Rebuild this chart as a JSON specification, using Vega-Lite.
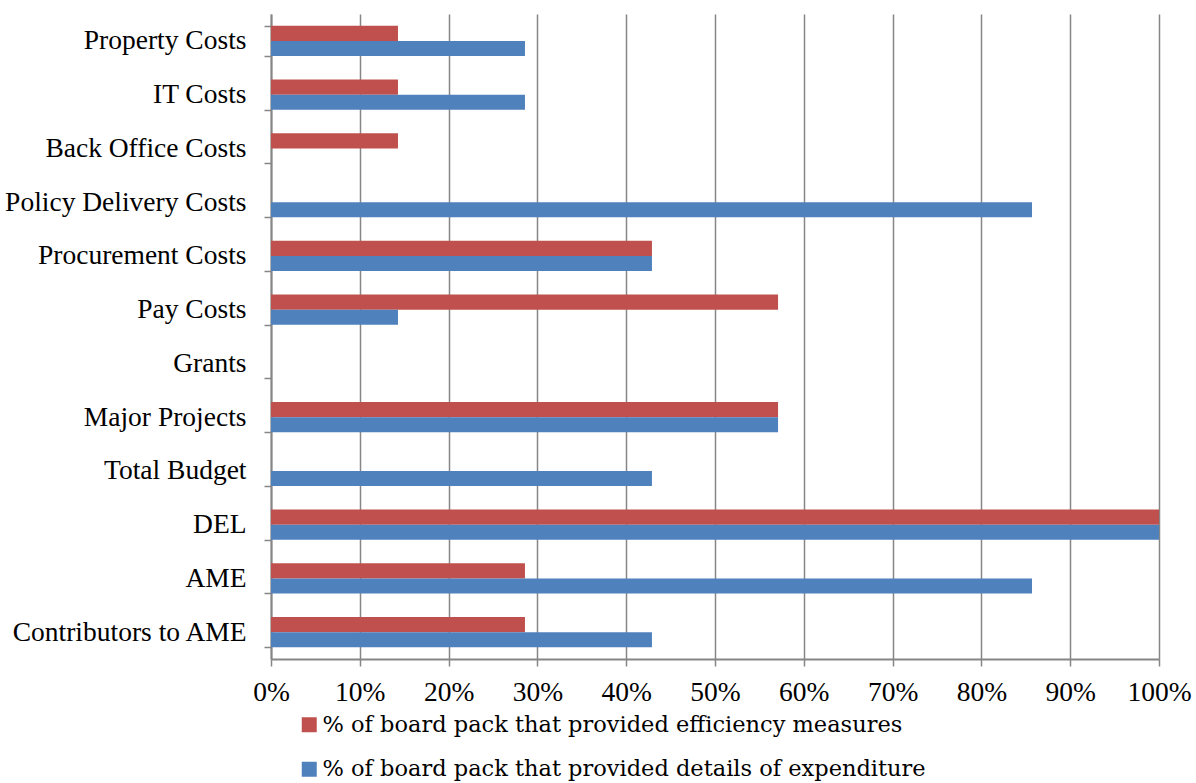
{
  "$schema": "https://vega.github.io/schema/vega-lite/v6.json",
  "autosize": "none",
  "width": 888,
  "height": 645,
  "padding": {"left": 271, "top": 14, "right": 37, "bottom": 124},
  "background": "white",
  "config": {
    "font": "Liberation Serif",
    "view": {"stroke": null},
    "style": {"guide-label": {"font": "Liberation Serif"}},
    "legend": {"labelFont": "DejaVu Serif"}
  },
  "data": {
    "values": [
      {"category": "Property Costs", "series": "% of board pack that provided efficiency measures", "pct": 14.3},
      {"category": "Property Costs", "series": "% of board pack that provided details of expenditure", "pct": 28.6},
      {"category": "IT Costs", "series": "% of board pack that provided efficiency measures", "pct": 14.3},
      {"category": "IT Costs", "series": "% of board pack that provided details of expenditure", "pct": 28.6},
      {"category": "Back Office Costs", "series": "% of board pack that provided efficiency measures", "pct": 14.3},
      {"category": "Back Office Costs", "series": "% of board pack that provided details of expenditure", "pct": 0},
      {"category": "Policy Delivery Costs", "series": "% of board pack that provided efficiency measures", "pct": 0},
      {"category": "Policy Delivery Costs", "series": "% of board pack that provided details of expenditure", "pct": 85.7},
      {"category": "Procurement Costs", "series": "% of board pack that provided efficiency measures", "pct": 42.9},
      {"category": "Procurement Costs", "series": "% of board pack that provided details of expenditure", "pct": 42.9},
      {"category": "Pay Costs", "series": "% of board pack that provided efficiency measures", "pct": 57.1},
      {"category": "Pay Costs", "series": "% of board pack that provided details of expenditure", "pct": 14.3},
      {"category": "Grants", "series": "% of board pack that provided efficiency measures", "pct": 0},
      {"category": "Grants", "series": "% of board pack that provided details of expenditure", "pct": 0},
      {"category": "Major Projects", "series": "% of board pack that provided efficiency measures", "pct": 57.1},
      {"category": "Major Projects", "series": "% of board pack that provided details of expenditure", "pct": 57.1},
      {"category": "Total Budget", "series": "% of board pack that provided efficiency measures", "pct": 0},
      {"category": "Total Budget", "series": "% of board pack that provided details of expenditure", "pct": 42.9},
      {"category": "DEL", "series": "% of board pack that provided efficiency measures", "pct": 100},
      {"category": "DEL", "series": "% of board pack that provided details of expenditure", "pct": 100},
      {"category": "AME", "series": "% of board pack that provided efficiency measures", "pct": 28.6},
      {"category": "AME", "series": "% of board pack that provided details of expenditure", "pct": 85.7},
      {"category": "Contributors to AME", "series": "% of board pack that provided efficiency measures", "pct": 28.6},
      {"category": "Contributors to AME", "series": "% of board pack that provided details of expenditure", "pct": 42.9}
    ]
  },
  "mark": {"type": "bar", "cornerRadius": 0},
  "encoding": {
    "y": {
      "field": "category",
      "type": "nominal",
      "sort": ["Property Costs", "IT Costs", "Back Office Costs", "Policy Delivery Costs", "Procurement Costs", "Pay Costs", "Grants", "Major Projects", "Total Budget", "DEL", "AME", "Contributors to AME"],
      "scale": {"paddingInner": 0.44, "paddingOuter": 0.22},
      "axis": {
        "title": null,
        "tickBand": "extent",
        "tickSize": 7,
        "tickColor": "#868686",
        "tickWidth": 1.5,
        "domainColor": "#868686",
        "domainWidth": 2,
        "labelFont": "Liberation Serif",
        "labelFontSize": 27.5,
        "labelColor": "#000000",
        "labelPadding": 18,
        "labelLimit": 300,
        "grid": false
      }
    },
    "yOffset": {
      "field": "series",
      "type": "nominal",
      "sort": ["% of board pack that provided efficiency measures", "% of board pack that provided details of expenditure"],
      "scale": {"paddingInner": 0, "paddingOuter": 0}
    },
    "x": {
      "field": "pct",
      "type": "quantitative",
      "scale": {"domain": [0, 100], "nice": false},
      "axis": {
        "title": null,
        "values": [0, 10, 20, 30, 40, 50, 60, 70, 80, 90, 100],
        "labelExpr": "datum.value + '%'",
        "grid": true,
        "gridColor": "#868686",
        "gridWidth": 1.5,
        "tickSize": 7,
        "tickColor": "#868686",
        "tickWidth": 1.5,
        "domainColor": "#868686",
        "domainWidth": 2,
        "labelFont": "Liberation Serif",
        "labelFontSize": 27.5,
        "labelColor": "#000000",
        "labelPadding": 12,
        "labelFlush": false
      }
    },
    "color": {
      "field": "series",
      "type": "nominal",
      "sort": ["% of board pack that provided efficiency measures", "% of board pack that provided details of expenditure"],
      "scale": {"range": ["#C0504D", "#4F81BD"]},
      "legend": {
        "title": null,
        "orient": "none",
        "legendX": 27,
        "legendY": 699.5,
        "direction": "vertical",
        "symbolType": "square",
        "symbolSize": 225,
        "symbolStrokeWidth": 0,
        "symbolOpacity": 1,
        "labelFont": "DejaVu Serif",
        "labelFontSize": 22.5,
        "labelColor": "#000000",
        "labelOffset": 2,
        "labelLimit": 800,
        "rowPadding": 21.5
      }
    }
  }
}
